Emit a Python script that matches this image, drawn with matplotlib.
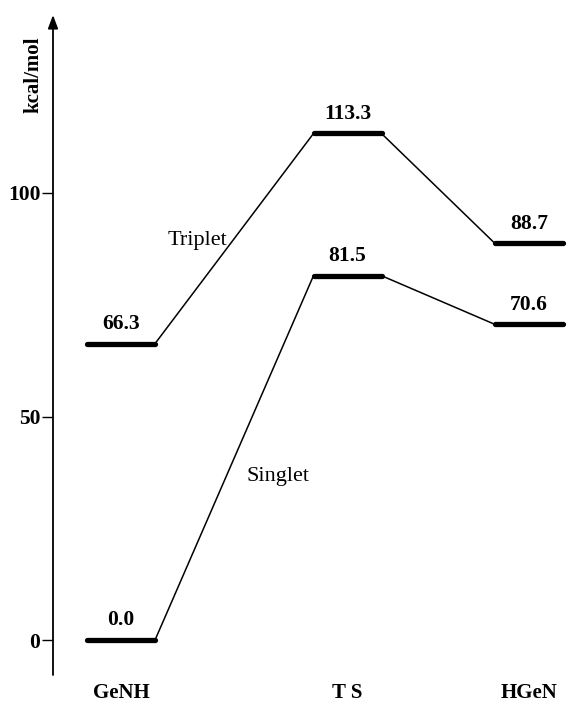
import matplotlib.pyplot as plt
import matplotlib.transforms as mtransforms

# energy levels (kcal/mol)
species = ["GeNH", "T S", "HGeN"]
x_pos = [68, 294.5, 476]          # level centres along the reaction coordinate
triplet = [66.3, 113.3, 88.7]
singlet = [0.0, 81.5, 70.6]
state_names = ["Triplet", "Singlet"]
yticks = [0, 50, 100]

half = 34
serif = ["Liberation Serif", "DejaVu Serif"]
plt.rcParams['font.family'] = serif

fig = plt.figure(figsize=(5.76, 7.04), dpi=100)
ax = fig.add_axes([53 / 576, 1 - 675 / 704, 523 / 576, 660 / 704])
ax.set_xlim(0, 523)
ax.set_ylim(-7.8, 139.8)

for series in (triplet, singlet):
    # connecting lines between level ends
    for i in range(len(series) - 1):
        ax.plot([x_pos[i] + half, x_pos[i + 1] - half], [series[i], series[i + 1]],
                color='black', lw=1.1, solid_capstyle='round')
    for x, e in zip(x_pos, series):
        ax.plot([x - half, x + half], [e, e], color='black', lw=3.8,
                solid_capstyle='round')
        ax.annotate(f"{e:.1f}", (x, e), xytext=(0, 7), textcoords='offset points',
                    ha='center', va='bottom', fontsize=15.5, fontweight='bold')

ax.text(144, 89.3, state_names[0], fontsize=16, ha='center', va='center')
ax.text(225, 36.5, state_names[1], fontsize=16, ha='center', va='center')

trans = mtransforms.blended_transform_factory(ax.transData, ax.transAxes)
for x, name in zip(x_pos, species):
    ax.text(x, -0.027, name, transform=trans, ha='center', va='center',
            fontsize=15, fontweight='bold')

for s in ['top', 'right', 'bottom', 'left']:
    ax.spines[s].set_visible(False)
ax.annotate('', xy=(0, 1.0), xytext=(0, 0), xycoords='axes fraction',
            arrowprops=dict(arrowstyle='-|>,head_length=0.8,head_width=0.3',
                            lw=1.3, color='black', shrinkA=0, shrinkB=0))
ax.set_xticks([])
ax.set_yticks(yticks)
ax.set_yticklabels([str(t) for t in yticks], fontsize=15.5, fontweight='bold')
ax.tick_params(axis='y', direction='out', length=8, width=1, pad=1)
ax.set_ylabel("kcal/mol", fontsize=15, fontweight='bold')
ax.yaxis.set_label_coords(-0.019, 0.909)

fig.savefig("out.png", dpi=100)
